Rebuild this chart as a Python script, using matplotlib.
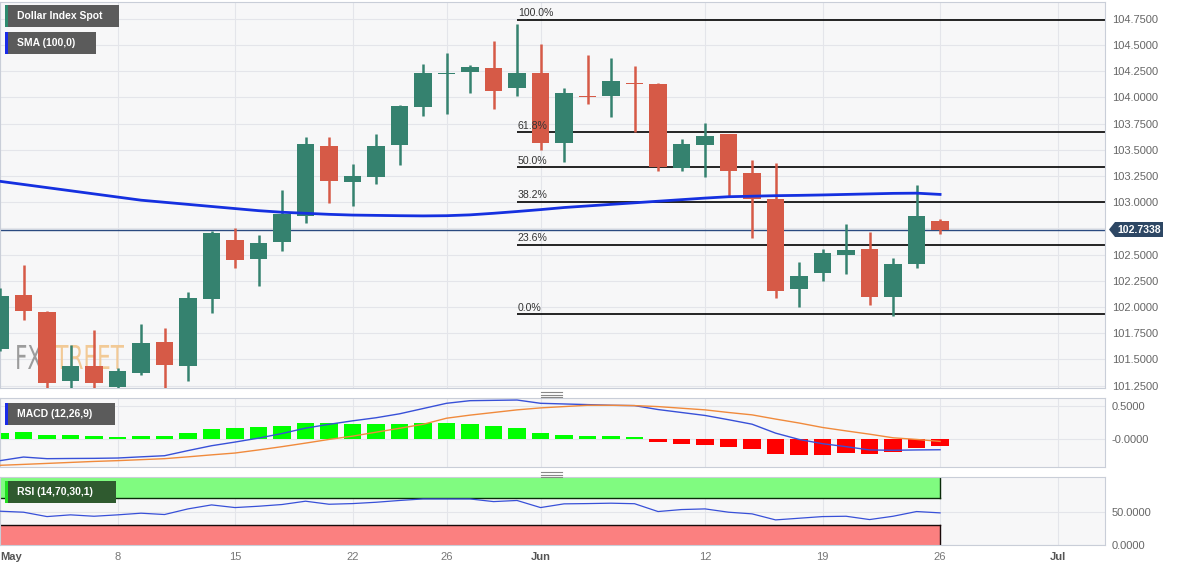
import numpy as np
import pandas as pd
import matplotlib
matplotlib.use('Agg')
import matplotlib.pyplot as plt
from matplotlib.patches import Rectangle, Polygon, PathPatch
from matplotlib.textpath import TextPath
from matplotlib.font_manager import FontProperties
from matplotlib.transforms import Affine2D

plt.rcParams['font.family'] = ['Liberation Sans', 'DejaVu Sans']

# trading days shown on the chart
days = pd.bdate_range('2023-05-01', '2023-06-26')

# daily candles, Dollar Index Spot
opens = [101.600, 102.115, 101.956, 101.295, 101.438, 101.240, 101.374, 101.667, 101.438, 102.080,
         102.640, 102.459, 102.618, 102.872, 103.540, 103.194, 103.244, 103.544, 103.906, 104.225,
         104.240, 104.281, 104.088, 104.237, 103.563, 104.015, 104.017, 104.140, 104.129, 103.324,
         103.547, 103.652, 103.277, 103.031, 102.173, 102.328, 102.494, 102.554, 102.094, 102.408,
         102.819]
highs = [102.182, 102.402, 101.960, 101.638, 101.781, 101.419, 101.839, 101.798, 102.141, 102.726,
         102.752, 102.688, 103.117, 103.626, 103.626, 103.365, 103.652, 103.930, 104.320, 104.427,
         104.310, 104.542, 104.701, 104.508, 104.094, 104.406, 104.377, 104.301, 104.141, 103.604,
         103.754, 103.655, 103.404, 103.372, 102.427, 102.554, 102.793, 102.717, 102.471, 103.165,
         102.838]
lows = [101.580, 101.877, 101.200, 101.200, 101.210, 101.200, 101.352, 101.200, 101.298, 101.941,
        102.370, 102.204, 102.538, 102.800, 102.996, 102.968, 103.172, 103.356, 103.826, 103.843,
        104.046, 103.887, 104.014, 103.499, 103.387, 103.941, 103.817, 103.668, 103.302, 103.302,
        103.244, 103.048, 102.662, 102.090, 102.004, 102.252, 102.319, 102.023, 101.918, 102.376,
        102.700]
closes = [102.106, 101.960, 101.276, 101.438, 101.279, 101.393, 101.655, 101.445, 102.084, 102.710,
          102.449, 102.609, 102.885, 103.556, 103.200, 103.251, 103.540, 103.919, 104.237, 104.235,
          104.294, 104.062, 104.231, 103.563, 104.046, 104.005, 104.155, 104.130, 103.340, 103.556,
          103.635, 103.302, 103.029, 102.154, 102.299, 102.513, 102.542, 102.094, 102.408, 102.872,
          102.7338]

sma100 = [103.20, 103.17, 103.14, 103.11, 103.08, 103.05, 103.02, 103.00, 102.98, 102.96,
          102.94, 102.92, 102.905, 102.895, 102.885, 102.878, 102.875, 102.872, 102.870, 102.872,
          102.880, 102.895, 102.912, 102.93, 102.95, 102.965, 102.98, 102.995, 103.01, 103.025,
          103.04, 103.053, 103.058, 103.063, 103.066, 103.07, 103.075, 103.08, 103.085, 103.087,
          103.075]

macd = [-0.333, -0.278, -0.303, -0.300, -0.298, -0.293, -0.275, -0.258, -0.180, -0.106,
        -0.050, 0.010, 0.080, 0.162, 0.220, 0.273, 0.320, 0.380, 0.460, 0.540,
        0.580, 0.585, 0.590, 0.540, 0.530, 0.520, 0.510, 0.505, 0.445, 0.400,
        0.355, 0.290, 0.222, 0.086, -0.010, -0.075, -0.120, -0.170, -0.175, -0.170,
        -0.167]
signal = [-0.404, -0.390, -0.375, -0.360, -0.345, -0.333, -0.318, -0.303, -0.275, -0.245,
          -0.217, -0.170, -0.120, -0.066, -0.010, 0.040, 0.100, 0.160, 0.220, 0.313,
          0.360, 0.400, 0.440, 0.470, 0.490, 0.510, 0.510, 0.505, 0.490, 0.465,
          0.440, 0.400, 0.364, 0.300, 0.240, 0.172, 0.120, 0.070, 0.015, -0.010,
          -0.040]
hist = [0.086, 0.101, 0.061, 0.050, 0.035, 0.025, 0.045, 0.045, 0.081, 0.152,
        0.167, 0.182, 0.197, 0.242, 0.237, 0.222, 0.222, 0.227, 0.247, 0.237,
        0.222, 0.187, 0.157, 0.081, 0.061, 0.045, 0.035, 0.025, -0.050, -0.081,
        -0.101, -0.126, -0.157, -0.227, -0.253, -0.242, -0.222, -0.232, -0.202, -0.146,
        -0.106]

rsi = [50.5, 49, 42.4, 45, 42.9, 45, 47.5, 45.5, 54, 60,
       56, 58, 60.6, 65.6, 61, 62, 64, 66.7, 69, 69,
       69, 65, 66.7, 56, 61.6, 62, 62.6, 61.8, 50, 53,
       54, 49, 46.5, 37.4, 39.9, 42.4, 42.9, 37.9, 42.9, 50,
       48]
rsi_high, rsi_low = 70, 30

fib_high, fib_low = 104.743, 101.931
fib_ratios = [1.0, 0.618, 0.5, 0.382, 0.236, 0.0]
fib_labels = ['100.0%', '61.8%', '50.0%', '38.2%', '23.6%', '0.0%']
fib_start = 22
last_price = 102.7338

price_ticks = np.arange(101.25, 104.76, 0.25)
tick_dates = ['2023-05-01', '2023-05-08', '2023-05-15', '2023-05-22', '2023-05-26',
              '2023-06-01', '2023-06-12', '2023-06-19', '2023-06-26', '2023-07-03']
tick_labels = ['May', '8', '15', '22', '26', 'Jun', '12', '19', '26', 'Jul']

W, H = 1182, 571
x = np.arange(len(days))
xt = [np.busday_count('2023-05-01', d) for d in tick_dates]

GREEN = '#35826f'
RED = '#d65a47'
GRID = '#e4e5ea'
SPINE = '#c9ced8'

fig = plt.figure(figsize=(W / 100, H / 100), dpi=100)
ax = fig.add_axes([0, 0.3205, 0.9349, 0.676])
ax_m = fig.add_axes([0, 0.1821, 0.9349, 0.1208])
ax_r = fig.add_axes([0, 0.0455, 0.9349, 0.119])

for a in (ax, ax_m, ax_r):
    a.set_facecolor('#f7f7f8')
    a.set_xlim(0, 47.02)
    a.set_xticks(xt)
    a.grid(True, color=GRID, lw=0.8)
    a.set_axisbelow(True)
    a.yaxis.tick_right()
    a.tick_params(axis='y', length=0, pad=5, labelsize=8, labelcolor='#666')
    a.tick_params(axis='x', length=0)
    for s in a.spines.values():
        s.set_color(SPINE)
ax.set_xticklabels([])
ax_m.set_xticklabels([])

# price panel; the label hidden behind the last-price badge is left blank
ax.set_ylim(101.228, 104.911)
ax.set_yticks(price_ticks)
ax.set_yticklabels(['' if abs(v - last_price) < 0.1 else f'{v:.4f}' for v in price_ticks])

o = np.array(opens); c = np.array(closes)
cols = [GREEN if cc >= oo else RED for oo, cc in zip(o, c)]
ax.vlines(x, lows, highs, colors=cols, lw=1.8, zorder=3)
body = np.maximum(np.abs(c - o), 0.012)
ax.bar(x, body, bottom=np.minimum(o, c), width=0.76, color=cols, zorder=3)

ax.plot(x, sma100, color='#1530e0', lw=2, zorder=4)
ax.axhline(last_price, color='#2a4a80', lw=1, zorder=2)

for r, lbl in zip(fib_ratios, fib_labels):
    lvl = fib_low + r * (fib_high - fib_low)
    ax.hlines(lvl, fib_start, 47.1, color='#000000', lw=1.2, zorder=2)
    ax.annotate(lbl, (fib_start, lvl), xytext=(0.5, 1), textcoords='offset points',
                va='bottom', ha='left', fontsize=7.6, color='#333')

# watermark
fp = FontProperties(family='DejaVu Sans')
tp_fx = TextPath((0, 0), 'FX', size=1, prop=fp)
tp_st = TextPath((0, 0), 'STREET', size=1, prop=fp)
w_fx = tp_fx.get_extents().x1
w_st = tp_st.get_extents().x1
sx = 109 / (w_fx + w_st)
sy = 24 / 0.729
base = Affine2D().scale(sx, sy)
ax.add_patch(PathPatch(tp_fx, transform=base + Affine2D().translate(15, H - 369),
                       fc='#8c8c8c', ec='none', alpha=0.85, zorder=1))
ax.add_patch(PathPatch(tp_st, transform=base + Affine2D().translate(15 + w_fx * sx, H - 369),
                       fc='#f2c58c', ec='none', alpha=0.9, zorder=1))

# MACD panel
ax_m.set_ylim(-0.43, 0.62)
ax_m.set_yticks([0.5, 0.0])
ax_m.set_yticklabels(['0.5000', '-0.0000'])
h = np.array(hist)
ax_m.bar(x, h, width=0.76, color=['#00ff00' if v >= 0 else '#ff0000' for v in h], zorder=2)
ax_m.plot(x, macd, color='#3850d8', lw=1, zorder=3)
ax_m.plot(x, signal, color='#f08a3c', lw=1, zorder=3)

# RSI panel
ax_r.set_ylim(-0.5, 102)
ax_r.set_yticks([50, 0])
ax_r.set_yticklabels(['50.0000', '0.0000'])
ax_r.add_patch(Rectangle((-1, rsi_high), x[-1] + 1, 100 - rsi_high, fc='#80fb80', ec='none', zorder=1))
ax_r.add_patch(Rectangle((-1, -1), x[-1] + 1, rsi_low + 1, fc='#fb8080', ec='none', zorder=1))
ax_r.plot([-1, x[-1]], [rsi_high, rsi_high], color='#0a2a0a', lw=1, zorder=2)
ax_r.plot([x[-1], x[-1]], [rsi_high, 100], color='#0a2a0a', lw=1, zorder=2)
ax_r.plot([-1, x[-1]], [rsi_low, rsi_low], color='#1a0a0a', lw=1, zorder=2)
ax_r.plot([x[-1], x[-1]], [-1, rsi_low], color='#1a0a0a', lw=1, zorder=2)
ax_r.plot(x, rsi, color='#3850d8', lw=0.9, zorder=3)

ax_r.set_xticklabels(tick_labels)
ax_r.tick_params(axis='x', pad=5, labelsize=8)
for t in ax_r.get_xticklabels():
    if t.get_text() in ('May', 'Jun', 'Jul'):
        t.set_fontweight('bold')
        t.set_color('#555')
    else:
        t.set_color('#777')
ax_r.get_xticklabels()[0].set_ha('left')


def fx(px):
    return px / W


def fy(py):
    return 1 - py / H


def tag(x0, y0, w, hgt, text, stripe, bg):
    fig.add_artist(Rectangle((fx(x0), fy(y0 + hgt)), w / W, hgt / H, transform=fig.transFigure,
                             fc=bg, ec='none', zorder=5))
    fig.add_artist(Rectangle((fx(x0), fy(y0 + hgt)), 3 / W, hgt / H, transform=fig.transFigure,
                             fc=stripe, ec='none', zorder=6))
    fig.text(fx(x0 + 12), fy(y0 + hgt / 2), text, color='white', fontsize=7.5,
             fontweight='bold', ha='left', va='center', zorder=7)


tag(5, 5, 114, 22, 'Dollar Index Spot', '#2e8b6e', '#5b5b5b')
tag(5, 32, 91, 22, 'SMA (100,0)', '#1a2be8', '#5b5b5b')
tag(5, 403, 110, 22, 'MACD (12,26,9)', '#1a2be8', '#5b5b5b')
tag(5, 481, 111, 22, 'RSI (14,70,30,1)', '#22e022', '#2f5a2f')

# last price badge
yb = 229.5
pts = [(fx(1109), fy(yb)), (fx(1115), fy(222)), (fx(1163), fy(222)),
       (fx(1163), fy(237)), (fx(1115), fy(237))]
fig.add_artist(Polygon(pts, closed=True, transform=fig.transFigure, fc='#2d4764', ec='none', zorder=5))
fig.text(fx(1139), fy(yb), f'{last_price:.4f}', color='white', fontsize=7.6,
         fontweight='bold', ha='center', va='center', zorder=6)

# panel resize handles
for yh in (392, 472):
    for k in range(3):
        fig.add_artist(plt.Line2D([fx(541), fx(562)], [fy(yh + 2.5 * k)] * 2,
                                  transform=fig.transFigure, color='#888', lw=0.8))

fig.savefig('out.png', dpi=100, facecolor='white')
